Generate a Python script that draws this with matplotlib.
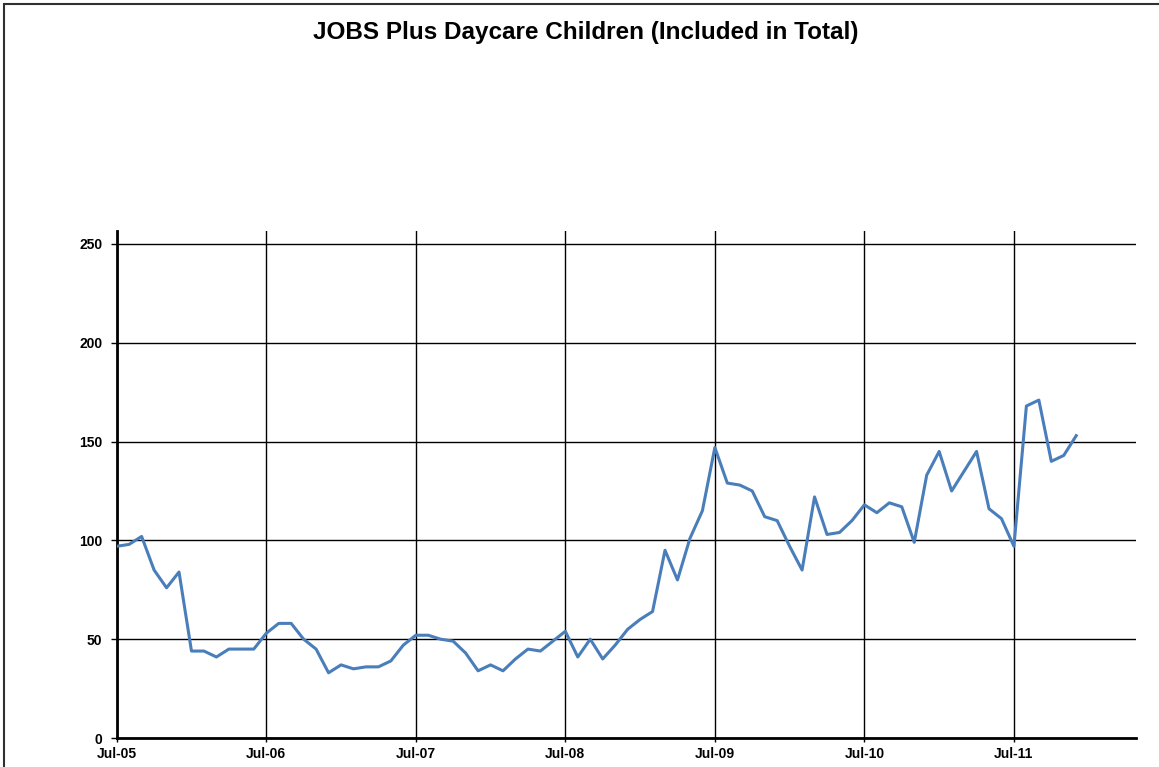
import matplotlib
matplotlib.use("Agg")
from matplotlib import pyplot as plt
from matplotlib.patches import Rectangle

# monthly counts, Jul-05 .. Dec-11
children = [
    97, 98, 102, 85, 76, 84, 44, 44, 41, 45, 45, 45,        # Jul-05 .. Jun-06
    53, 58, 58, 50, 45, 33, 37, 35, 36, 36, 39, 47,         # Jul-06 .. Jun-07
    52, 52, 50, 49, 43, 34, 37, 34, 40, 45, 44, 49,         # Jul-07 .. Jun-08
    54, 41, 50, 40, 47, 55, 60, 64, 95, 80, 101, 115,       # Jul-08 .. Jun-09
    147, 129, 128, 125, 112, 110, 97, 85, 122, 103, 104, 110,  # Jul-09 .. Jun-10
    118, 114, 119, 117, 99, 133, 145, 125, 135, 145, 116, 111,  # Jul-10 .. Jun-11
    97, 168, 171, 140, 143, 153,                            # Jul-11 .. Dec-11
]
months = list(range(len(children)))
tick_labels = ['Jul-05', 'Jul-06', 'Jul-07', 'Jul-08', 'Jul-09', 'Jul-10', 'Jul-11']
tick_pos = [12 * i for i in range(len(tick_labels))]
y_ticks = [0, 50, 100, 150, 200, 250]

plt.rcParams['font.family'] = ['Liberation Sans', 'DejaVu Sans']

fig = plt.figure(figsize=(11.59, 7.67), dpi=100)
ax = fig.add_axes([0.1007, 0.0378, 0.8795, 0.6614])

# outer chart border (only left and top edges are visible in the frame)
fig.patches.append(Rectangle((4 / 1159, -0.1), 1.2, (767 - 4) / 767 + 0.1,
                             transform=fig.transFigure, fill=False,
                             edgecolor='#303030', linewidth=1.5))

fig.text(0.505, 0.958, 'JOBS Plus Daycare Children (Included in Total)',
         ha='center', va='center', fontsize=17.5, fontweight='bold')

ax.plot(months, children, color='#4A7EBB', linewidth=2.2, zorder=3)

ax.set_xlim(0, 81.8)
ax.set_ylim(0, 256.7)
ax.set_xticks(tick_pos)
ax.set_xticklabels(tick_labels)
ax.set_yticks(y_ticks)
ax.grid(True, color='black', linewidth=1.0)
ax.set_axisbelow(True)

for side in ['top', 'right']:
    ax.spines[side].set_visible(False)
for side in ['left', 'bottom']:
    ax.spines[side].set_linewidth(2.0)
    ax.spines[side].set_color('black')

ax.tick_params(axis='y', direction='out', length=4, width=1, pad=6.5, labelsize=10)
ax.tick_params(axis='x', direction='out', length=3, width=1, pad=3.5, labelsize=10)
for lab in ax.get_xticklabels() + ax.get_yticklabels():
    lab.set_fontweight('bold')

fig.savefig('out.png', dpi=100)
